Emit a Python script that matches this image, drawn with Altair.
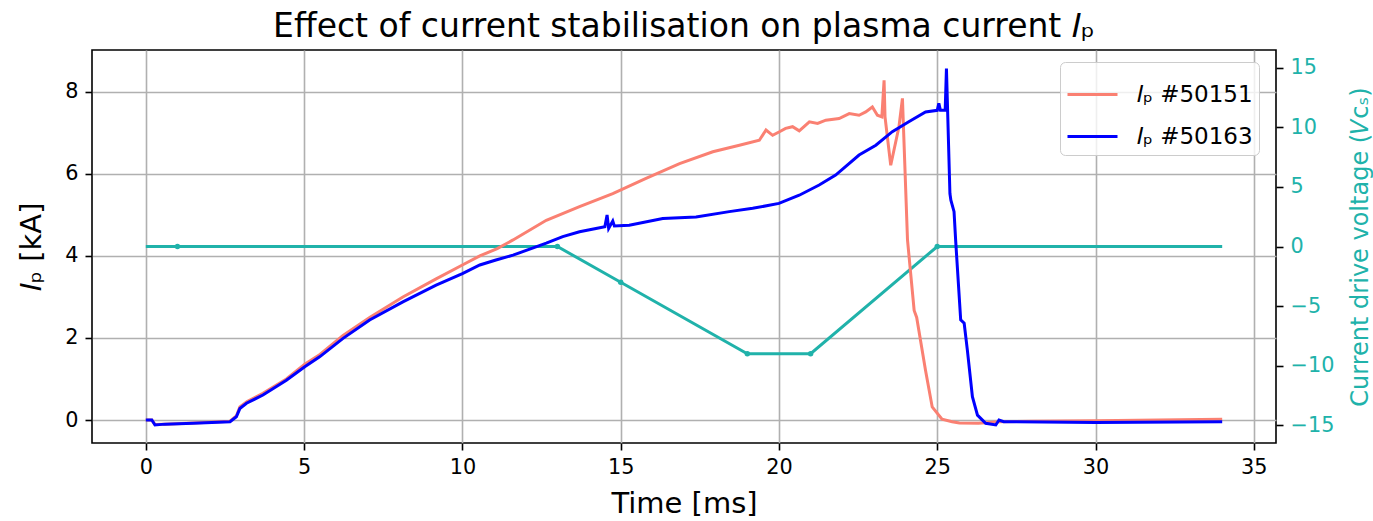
import altair as alt
import pandas as pd

# ---- data ----
red_label = "𝐼ₚ #50151"
blue_label = "𝐼ₚ #50163"

red_t = [0.0, 0.19, 0.29, 0.6, 1.5, 2.66, 2.86, 2.97, 3.2, 3.7, 4.44, 5.02, 5.5, 6.23, 7.07,
         8.12, 9.17, 10.0, 10.55, 11.1, 11.6, 12.65, 13.7, 14.75, 15.8, 16.86, 17.91, 18.75,
         19.38, 19.59, 19.8, 20.0, 20.21, 20.43, 20.64, 20.96, 21.22, 21.48, 21.9, 22.22,
         22.53, 22.74, 22.95, 23.11, 23.25, 23.32, 23.35, 23.53, 23.79, 23.9, 24.06, 24.27,
         24.35, 24.63, 24.84, 25.15, 25.47, 25.7, 26.3, 26.95, 28.0, 30.0, 32.0, 34.0]
red_i = [0.0, 0.0, -0.11, -0.1, -0.07, -0.03, 0.1, 0.32, 0.45, 0.65, 1.0, 1.36, 1.6, 2.06, 2.5,
         3.0, 3.44, 3.78, 4.0, 4.18, 4.39, 4.87, 5.2, 5.52, 5.89, 6.25, 6.54, 6.7,
         6.82, 7.07, 6.94, 7.02, 7.11, 7.15, 7.05, 7.27, 7.23, 7.31, 7.35, 7.47,
         7.43, 7.51, 7.63, 7.43, 7.39, 8.28, 7.39, 6.21, 7.15, 7.84, 4.39, 2.67,
         2.5, 1.21, 0.32, 0.02, -0.04, -0.07, -0.08, -0.04, -0.03, -0.02, 0.0, 0.02]

blue_t = [0.0, 0.19, 0.29, 0.6, 1.5, 2.66, 2.86, 2.97, 3.18, 3.7, 4.44, 5.02, 5.49, 6.23, 7.07,
          8.12, 9.17, 10.0, 10.55, 11.06, 11.6, 12.65, 13.17, 13.7, 14.22, 14.5, 14.57, 14.62,
          14.75, 14.8, 15.27, 16.33, 17.38, 18.43, 19.17, 20.0, 20.64, 21.27, 21.79, 22.53,
          23.06, 23.58, 24.1, 24.63, 25.0, 25.05, 25.1, 25.25, 25.29, 25.4, 25.43, 25.53,
          25.58, 25.74, 25.85, 25.95, 26.11, 26.27, 26.53, 26.85, 26.95, 27.1, 30.0, 34.0]
blue_i = [0.0, 0.0, -0.12, -0.1, -0.08, -0.04, 0.08, 0.28, 0.41, 0.61, 0.97, 1.3, 1.54, 1.99, 2.44,
          2.88, 3.29, 3.57, 3.78, 3.9, 4.02, 4.31, 4.47, 4.59, 4.67, 4.71, 5.0, 4.67,
          4.85, 4.73, 4.75, 4.91, 4.95, 5.08, 5.16, 5.28, 5.48, 5.73, 5.97, 6.46,
          6.7, 7.03, 7.27, 7.51, 7.55, 7.72, 7.55, 7.55, 8.57, 5.52, 5.36, 5.08,
          4.39, 2.44, 2.36, 1.71, 0.57, 0.12, -0.08, -0.12, 0.0, -0.04, -0.06, -0.04]

v_t = [0, 1, 13, 15, 19, 21, 25, 34]
v_val = [0, 0, 0, -3, -9, -9, 0, 0]
v_marker = [False, True, True, True, True, True, True, False]

x_ticks = [0, 5, 10, 15, 20, 25, 30, 35]
ip_ticks = [0, 2, 4, 6, 8]
v_ticks = [-15, -10, -5, 0, 5, 10, 15]

# ---- styles ----
FONT = "DejaVu Sans"
RED = "#FA8072"
BLUE = "#0000FF"
TEAL = "#20B2AA"

ip_df = pd.concat([
    pd.DataFrame({"t": red_t, "ip": red_i, "series": red_label}),
    pd.DataFrame({"t": blue_t, "ip": blue_i, "series": blue_label}),
], ignore_index=True)
ip_df["k"] = range(len(ip_df))
v_df = pd.DataFrame({"t": v_t, "v": v_val, "marker": v_marker})

x_enc = alt.X("t:Q", scale=alt.Scale(domain=[-1.7, 35.7], nice=False, zero=False),
              axis=alt.Axis(values=x_ticks, title="Time [ms]", titleFontSize=29,
                            titleBaseline="alphabetic", titleY=69, grid=True,
                            labelFlush=False, labelOverlap=False))

v_scale = alt.Scale(domain=[-16.5, 16.5], nice=False, zero=False)
v_axis = alt.Axis(orient="right", values=v_ticks, grid=False,
                  title="Current drive voltage (𝑉ᴄₛ)", titleColor=TEAL, titleFontSize=24,
                  titleAngle=270, titleBaseline="alphabetic", titleX=91,
                  labelColor=TEAL, labelFlush=False, labelOverlap=False)

v_line = alt.Chart(v_df).mark_line(color=TEAL, strokeWidth=3).encode(
    x=x_enc, y=alt.Y("v:Q", scale=v_scale, axis=v_axis))
v_pts = alt.Chart(v_df).transform_filter("datum.marker").mark_circle(
    color=TEAL, size=30, opacity=1).encode(
    x=alt.X("t:Q"), y=alt.Y("v:Q"))
v_layer = alt.layer(v_line, v_pts)

ip_scale = alt.Scale(domain=[-0.56, 9.02], nice=False, zero=False)
ip_axis = alt.Axis(orient="left", values=ip_ticks, grid=True, title="𝐼ₚ [kA]",
                   titleFontSize=29, titleAngle=270, titleBaseline="alphabetic",
                   titleX=-52, labelFlush=False, labelOverlap=False)

ip_layer = alt.Chart(ip_df).mark_line(strokeWidth=3).encode(
    x=x_enc,
    y=alt.Y("ip:Q", scale=ip_scale, axis=ip_axis),
    order=alt.Order("k:Q"),
    color=alt.Color("series:N",
                    scale=alt.Scale(domain=[red_label, blue_label], range=[RED, BLUE]),
                    legend=alt.Legend(title=None, orient="none", legendX=968, legendY=12,
                                      symbolType="stroke", symbolSize=2500,
                                      symbolStrokeWidth=3, labelFontSize=23, labelFont=FONT,
                                      labelOffset=18, rowPadding=3, padding=6,
                                      fillColor="rgba(255,255,255,0.8)",
                                      strokeColor="#cccccc", cornerRadius=5)),
)

chart = alt.layer(v_layer, ip_layer).resolve_scale(y="independent").properties(
    width=1184, height=393,
    background="white",
    title=alt.TitleParams("Effect of current stabilisation on plasma current 𝐼ₚ",
                          fontSize=33, font=FONT, fontWeight="normal", anchor="middle",
                          baseline="alphabetic", offset=11, dy=31, color="black"),
    autosize=alt.AutoSizeParams(type="none"),
    padding={"left": 92, "top": 50, "right": 97, "bottom": 78},
).configure_view(stroke="black", strokeWidth=1.6).configure_axis(
    domain=False, tickColor="black", tickWidth=1.6, tickSize=7, labelPadding=7,
    labelFont=FONT, labelFontSize=20.8, labelColor="black",
    gridColor="#b0b0b0", gridWidth=1.6, titleFont=FONT, titleFontWeight="normal",
    titleColor="black",
)

chart.save("out.html", embed_options={"renderer": "svg", "actions": False})
